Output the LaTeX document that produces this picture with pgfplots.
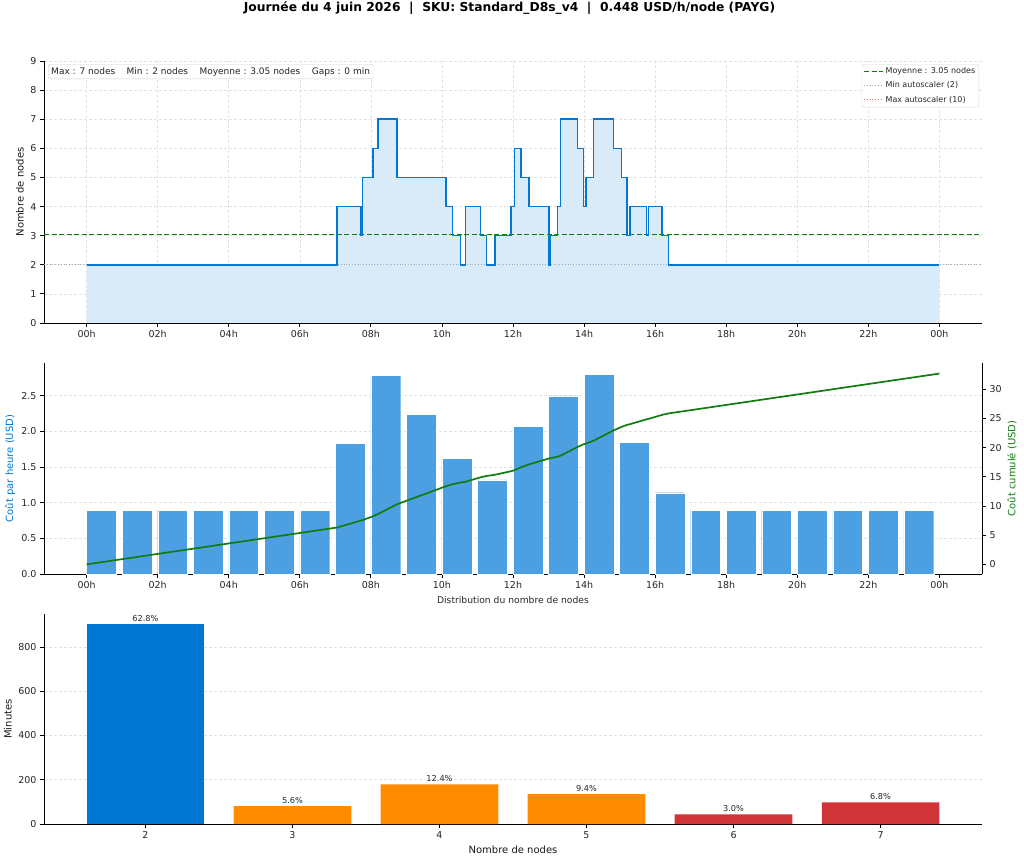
\documentclass[border=0pt]{standalone}
\usepackage{fontspec}
\setmainfont{DejaVu Sans}
\usepackage{pgfplots}
\usepackage{pgfplotstable}
\pgfplotsset{compat=1.18}

\definecolor{azure}{HTML}{0078D4}
\definecolor{azfill}{HTML}{D9EBF9}
\definecolor{barblue}{HTML}{4CA0E1}
\definecolor{msgreen}{HTML}{107C10}
\definecolor{msorange}{HTML}{FF8C00}
\definecolor{msred}{HTML}{D13438}
\definecolor{gridgray}{HTML}{E2E2E2}

\newcommand{\fs}[2]{\fontsize{#1}{#2}\selectfont}

% node count, step changes (hour of day, nodes)
\pgfplotstableread{
t n
0.00 2
7.05 4
7.72 3
7.76 5
8.06 6
8.20 7
8.74 5
10.12 4
10.30 3
10.52 2
10.66 4
11.09 3
11.26 2
11.50 3
11.94 4
12.04 6
12.22 5
12.45 4
13.02 2
13.05 3
13.25 4
13.33 7
13.82 6
13.99 4
14.05 5
14.26 7
14.83 6
15.06 5
15.21 3
15.29 4
15.76 3
15.81 4
16.20 3
16.38 2
24.00 2
}\nodesdata

% cost per hour (USD)
\pgfplotstableread{
h c
0 0.896
1 0.896
2 0.896
3 0.896
4 0.896
5 0.896
6 0.896
7 1.83
8 2.79
9 2.24
10 1.62
11 1.32
12 2.07
13 2.50
14 2.80
15 1.85
16 1.14
17 0.896
18 0.896
19 0.896
20 0.896
21 0.896
22 0.896
23 0.896
}\hourly

% cumulative cost (USD)
\pgfplotstableread{
t c
0.00 0.000
7.05 6.317
7.72 7.517
7.76 7.571
8.06 8.243
8.20 8.620
8.74 10.313
10.12 13.404
10.30 13.727
10.52 14.022
10.66 14.148
11.09 14.918
11.26 15.147
11.50 15.362
11.94 15.953
12.04 16.133
12.22 16.616
12.45 17.132
13.02 18.153
13.05 18.180
13.25 18.449
13.33 18.592
13.82 20.129
13.99 20.586
14.05 20.693
14.26 21.164
14.83 22.951
15.06 23.569
15.21 23.905
15.29 24.013
15.76 24.855
15.81 24.922
16.20 25.621
16.38 25.863
24.00 32.690
}\cumdata

% minutes spent at each node count, share of the day in percent
\pgfplotstableread{
n m p
2 904 62.8
}\distblue
\pgfplotstableread{
n m p
3 81 5.6
4 179 12.4
5 135 9.4
}\distorange
\pgfplotstableread{
n m p
6 43 3.0
7 98 6.8
}\distred

\pgfplotsset{
  base/.style={
    scale only axis, width=938pt,
    axis line style={black, line width=0.8pt},
    tick style={black, line width=0.8pt},
    major tick length=4pt, tick align=outside,
    /pgf/number format/assume math mode=true,
    tick label style={font=\fs{9.5}{11}, text=black!85},
    label style={font=\fs{10}{12}, text=black!90},
    grid style={gridgray, dash pattern=on 3pt off 2pt, line width=0.6pt},
  },
  hours/.style={
    xmin=-1.2, xmax=25.2,
    xtick={0,2,...,24},
    xticklabels={00h,02h,04h,06h,08h,10h,12h,14h,16h,18h,20h,22h,00h},
  },
  pctlabels/.style={
    nodes near coords={\pgfmathprintnumber[fixed,fixed zerofill,precision=1]{\pgfplotspointmeta}\%},
    point meta=explicit,
    nodes near coords style={font=\fs{8.2}{9.6}, text=black!85, anchor=south, yshift=-1pt},
  },
}

\begin{document}
\begin{tikzpicture}
\path[use as bounding box] (0,0) rectangle (1024pt,863pt);

\node[font=\bfseries\fs{12.3}{14}] at (509.5pt,855pt)
  {Journée du 4 juin 2026\hspace{0.7em}|\hspace{0.7em}SKU: Standard\_D8s\_v4\hspace{0.7em}|\hspace{0.7em}0.448 USD/h/node (PAYG)};

% --- node count over the day ---
\begin{axis}[base, hours,
  at={(44pt,540pt)}, anchor=south west, height=262pt,
  ymin=0, ymax=9, ytick={0,...,9},
  axis x line*=bottom, axis y line*=left, grid=major,
  ylabel={Nombre de nodes},
  ylabel style={at={(axis description cs:-0.0256,0.5)}, anchor=center},
  legend cell align=left,
  legend style={at={(0.9968,0.9885)}, anchor=north east, draw=black!15,
    rounded corners=2pt, font=\fs{8}{9.6}, text=black!85, inner sep=1.5pt,
    row sep=2.6pt},
  legend image code/.code={\draw[#1] (0pt,0pt) -- (19pt,0pt);},
]
\addplot[const plot, fill=azfill, draw=none, forget plot] table[x=t, y=n]{\nodesdata} \closedcycle;
\addplot[msgreen, line width=1.2pt, dash pattern=on 5pt off 2.5pt] coordinates {(-1.2,3.05) (25.2,3.05)};
\addlegendentry{Moyenne : 3.05 nodes}
\addplot[gray!70, dotted, line width=0.8pt] coordinates {(-1.2,2) (25.2,2)};
\addlegendentry{Min autoscaler (2)}
\addplot[msred!70, dotted, line width=0.8pt] coordinates {(-1.2,10) (25.2,10)};
\addlegendentry{Max autoscaler (10)}
\addplot[const plot, azure, line width=1.5pt, forget plot] table[x=t, y=n]{\nodesdata};
\node[draw=black!20, rounded corners=2pt, fill=white, font=\fs{9}{11}, text=black!85,
  anchor=north west, inner sep=3pt] at (rel axis cs:0.0043,0.9885)
  {Max : 7 nodes\hspace{1.27em}Min : 2 nodes\hspace{1.27em}Moyenne : 3.05 nodes\hspace{1.27em}Gaps : 0 min};
\end{axis}

% --- hourly cost ---
\begin{axis}[base, hours,
  at={(44pt,289pt)}, anchor=south west, height=211pt,
  ymin=0, ymax=2.96, ytick={0,0.5,1,1.5,2,2.5},
  yticklabel style={/pgf/number format/.cd, fixed, fixed zerofill, precision=1},
  axis x line*=bottom, axis y line*=left, ymajorgrids,
  ylabel={Coût par heure (USD)},
  ylabel style={at={(axis description cs:-0.0362,0.5)}, anchor=center, text=azure},
]
\addplot[ybar, bar width=0.84, fill=barblue, draw=white, line width=0.3pt]
  table[x expr=\thisrow{h}+0.42, y=c]{\hourly};
\end{axis}

% --- cumulative cost on the right scale ---
\begin{axis}[base, hours,
  at={(44pt,289pt)}, anchor=south west, height=211pt,
  ymin=-1.65, ymax=34.5, ytick={0,5,...,30},
  axis x line=none, axis y line*=right,
  ylabel={Coût cumulé (USD)},
  ylabel style={at={(axis description cs:1.032,0.5)}, anchor=center, text=msgreen},
]
\addplot[msgreen, line width=1.7pt] table[x=t, y=c]{\cumdata};
\end{axis}

% --- distribution of node counts ---
\begin{axis}[base,
  at={(44pt,39pt)}, anchor=south west, height=210pt,
  xmin=1.31, xmax=7.69, xtick={2,...,7},
  ymin=0, ymax=949, ytick={0,200,...,800},
  axis x line*=bottom, axis y line*=left, ymajorgrids,
  ylabel={Minutes},
  ylabel style={at={(axis description cs:-0.0384,0.5)}, anchor=center},
  xlabel={Nombre de nodes},
  xlabel style={at={(axis description cs:0.5,-0.124)}, anchor=center},
  title={Distribution du nombre de nodes},
  title style={font=\fs{9.2}{11}, text=black!85, at={(axis description cs:0.5,1.038)}, anchor=center},
]
\addplot[ybar, bar width=0.8, fill=azure, draw=none, pctlabels]
  table[x=n, y=m, meta=p]{\distblue};
\addplot[ybar, bar width=0.8, fill=msorange, draw=none, pctlabels]
  table[x=n, y=m, meta=p]{\distorange};
\addplot[ybar, bar width=0.8, fill=msred, draw=none, pctlabels]
  table[x=n, y=m, meta=p]{\distred};
\end{axis}
\end{tikzpicture}
\end{document}
